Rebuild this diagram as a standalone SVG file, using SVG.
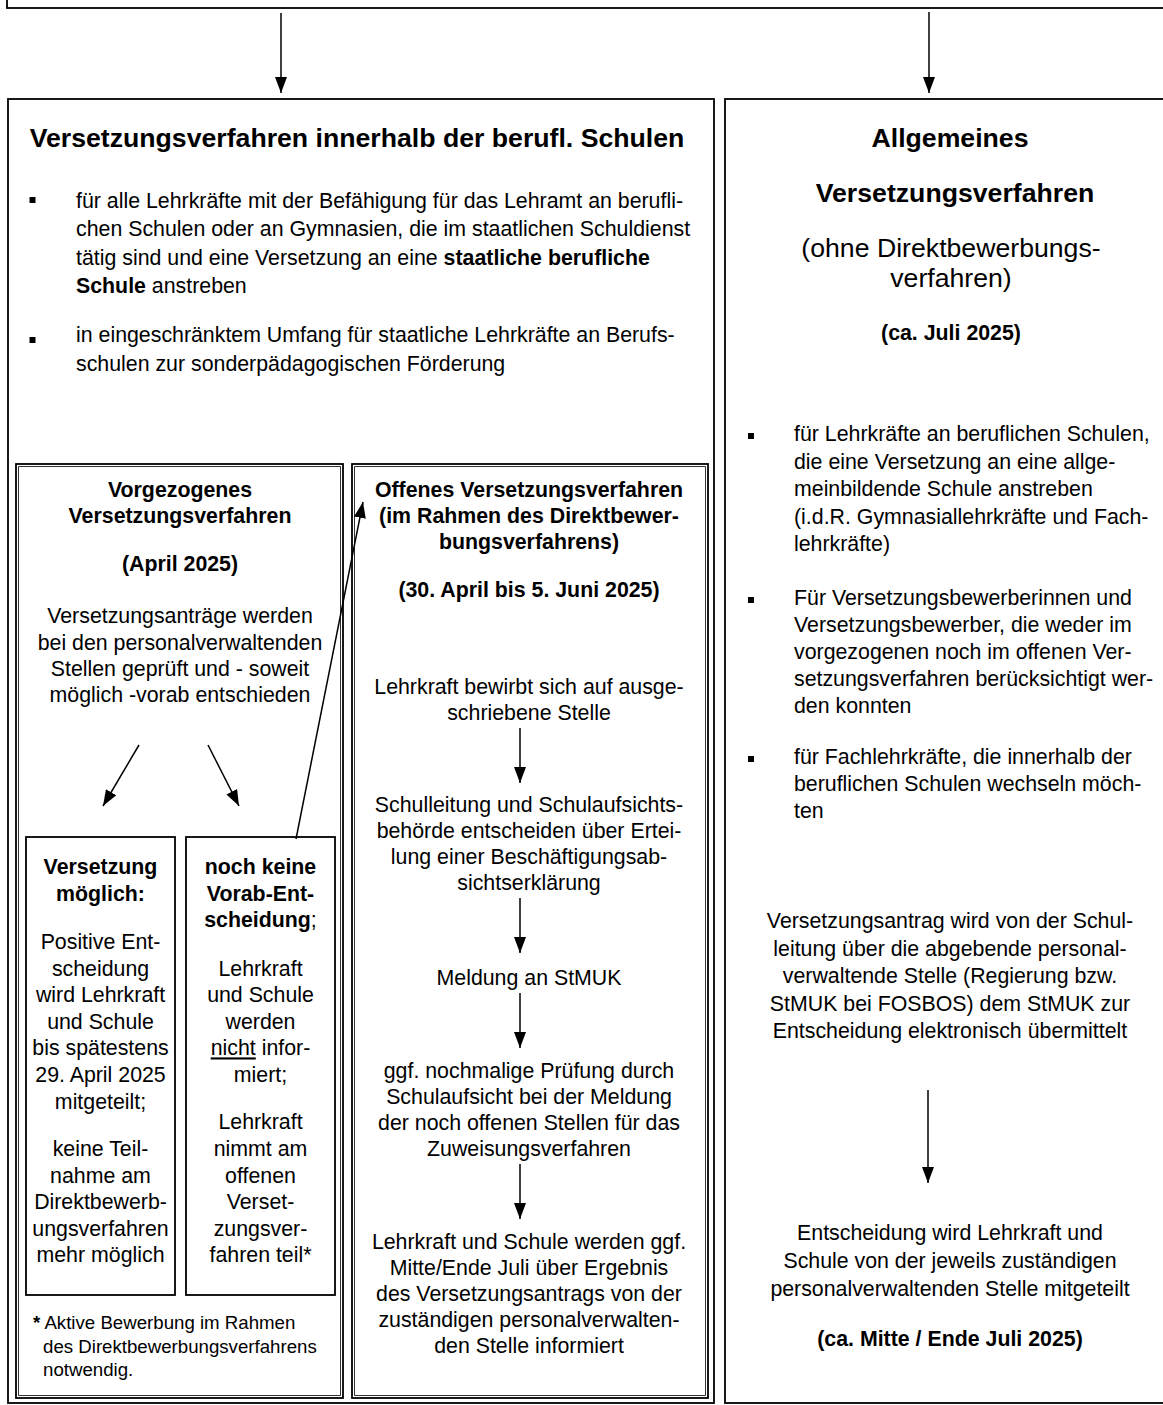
<svg xmlns="http://www.w3.org/2000/svg" width="1163" height="1405" viewBox="0 0 1163 1405">
<style>
.t{font-family:"Liberation Sans",Arial,sans-serif;font-size:21.33px;fill:#000}
.c{text-anchor:middle}
.b{font-weight:bold}
.h{font-size:26.67px}
.f{font-size:18.67px}
.box{fill:none;stroke:#000;stroke-width:1.8}
.thin{fill:none;stroke:#000;stroke-width:0.8}
.bul{fill:#000}
.ln{stroke:#000;stroke-width:1.5;fill:none;marker-end:url(#ah)}
</style>
<defs>
<marker id="ah" markerUnits="userSpaceOnUse" markerWidth="16" markerHeight="12" refX="16" refY="6" orient="auto"><path d="M0,0 L16,6 L0,12 Z" fill="#000"/></marker>
</defs>
<rect x="0" y="0" width="1163" height="1405" fill="#fff"/>

<g id="top-box">
<rect class="box" x="7" y="-20" width="1180" height="28"/>
</g>

<g id="berufl-box">
<rect class="box" x="8" y="99" width="706" height="1304"/>
<text class="t h b c" x="357" y="147">Versetzungsverfahren innerhalb der berufl. Schulen</text>
<rect class="bul" x="29.5" y="197" width="6" height="6"/>
<text class="t" x="76" y="208">für alle Lehrkräfte mit der Befähigung für das Lehramt an berufli-</text>
<text class="t" x="76" y="236.3">chen Schulen oder an Gymnasien, die im staatlichen Schuldienst</text>
<text class="t" x="76" y="264.6">tätig sind und eine Versetzung an eine <tspan class="b">staatliche berufliche</tspan></text>
<text class="t" x="76" y="293"><tspan class="b">Schule</tspan> anstreben</text>
<rect class="bul" x="29.5" y="337" width="6" height="6"/>
<text class="t" x="76" y="342">in eingeschränktem Umfang für staatliche Lehrkräfte an Berufs-</text>
<text class="t" x="76" y="370.6">schulen zur sonderpädagogischen Förderung</text>
</g>

<g id="vorgezogen-box">
<rect class="box" x="16" y="464" width="327" height="934"/>
<rect class="thin" x="18.6" y="466.6" width="321.8" height="928.8"/>
<text class="t b c" x="180" y="497">Vorgezogenes</text>
<text class="t b c" x="180" y="523">Versetzungsverfahren</text>
<text class="t b c" x="180" y="571">(April 2025)</text>
<text class="t c" x="180" y="623">Versetzungsanträge werden</text>
<text class="t c" x="180" y="649.5">bei den personalverwaltenden</text>
<text class="t c" x="180" y="676">Stellen geprüft und - soweit</text>
<text class="t c" x="180" y="702">möglich -vorab entschieden</text>
<text class="t f" x="33" y="1329"><tspan class="b">*</tspan> Aktive Bewerbung im Rahmen</text>
<text class="t f" x="43" y="1353">des Direktbewerbungsverfahrens</text>
<text class="t f" x="43" y="1376">notwendig.</text>
</g>

<g id="moeglich-box">
<rect class="box" x="26" y="837" width="149" height="458"/>
<text class="t b c" x="100.5" y="874">Versetzung</text>
<text class="t b c" x="100.5" y="900.6">möglich:</text>
<text class="t c" x="100.5" y="949">Positive Ent-</text>
<text class="t c" x="100.5" y="975.6">scheidung</text>
<text class="t c" x="100.5" y="1002.2">wird Lehrkraft</text>
<text class="t c" x="100.5" y="1028.8">und Schule</text>
<text class="t c" x="100.5" y="1055.4">bis spätestens</text>
<text class="t c" x="100.5" y="1082">29. April 2025</text>
<text class="t c" x="100.5" y="1108.6">mitgeteilt;</text>
<text class="t c" x="100.5" y="1156">keine Teil-</text>
<text class="t c" x="100.5" y="1182.6">nahme am</text>
<text class="t c" x="100.5" y="1209.2">Direktbewerb-</text>
<text class="t c" x="100.5" y="1235.8">ungsverfahren</text>
<text class="t c" x="100.5" y="1262.4">mehr möglich</text>
</g>

<g id="keine-box">
<rect class="box" x="186" y="837" width="149" height="458"/>
<text class="t b c" x="260.5" y="874">noch keine</text>
<text class="t b c" x="260.5" y="900.6">Vorab-Ent-</text>
<text class="t c" x="260.5" y="927.2"><tspan class="b">scheidung</tspan>;</text>
<text class="t c" x="260.5" y="975.6">Lehrkraft</text>
<text class="t c" x="260.5" y="1002.2">und Schule</text>
<text class="t c" x="260.5" y="1028.8">werden</text>
<text class="t c" x="260.5" y="1055.4"><tspan text-decoration="underline">nicht</tspan> infor-</text>
<text class="t c" x="260.5" y="1082">miert;</text>
<text class="t c" x="260.5" y="1129.4">Lehrkraft</text>
<text class="t c" x="260.5" y="1156">nimmt am</text>
<text class="t c" x="260.5" y="1182.6">offenen</text>
<text class="t c" x="260.5" y="1209.2">Verset-</text>
<text class="t c" x="260.5" y="1235.8">zungsver-</text>
<text class="t c" x="260.5" y="1262.4">fahren teil*</text>
</g>

<g id="offen-box">
<rect class="box" x="352" y="464" width="356" height="934"/>
<rect class="thin" x="354.6" y="466.6" width="350.8" height="928.8"/>
<text class="t b c" x="529" y="497">Offenes Versetzungsverfahren</text>
<text class="t b c" x="529" y="523">(im Rahmen des Direktbewer-</text>
<text class="t b c" x="529" y="549">bungsverfahrens)</text>
<text class="t b c" x="529" y="597">(30. April bis 5. Juni 2025)</text>
<text class="t c" x="529" y="694">Lehrkraft bewirbt sich auf ausge-</text>
<text class="t c" x="529" y="720">schriebene Stelle</text>
<text class="t c" x="529" y="812">Schulleitung und Schulaufsichts-</text>
<text class="t c" x="529" y="838">behörde entscheiden über Ertei-</text>
<text class="t c" x="529" y="864">lung einer Beschäftigungsab-</text>
<text class="t c" x="529" y="890">sichtserklärung</text>
<text class="t c" x="529" y="985">Meldung an StMUK</text>
<text class="t c" x="529" y="1078">ggf. nochmalige Prüfung durch</text>
<text class="t c" x="529" y="1104">Schulaufsicht bei der Meldung</text>
<text class="t c" x="529" y="1130">der noch offenen Stellen für das</text>
<text class="t c" x="529" y="1156">Zuweisungsverfahren</text>
<text class="t c" x="529" y="1249">Lehrkraft und Schule werden ggf.</text>
<text class="t c" x="529" y="1275">Mitte/Ende Juli über Ergebnis</text>
<text class="t c" x="529" y="1301">des Versetzungsantrags von der</text>
<text class="t c" x="529" y="1327">zuständigen personalverwalten-</text>
<text class="t c" x="529" y="1353">den Stelle informiert</text>
</g>

<g id="allgemein-box">
<rect class="box" x="725" y="99" width="460" height="1304"/>
<text class="t h b c" x="950" y="147">Allgemeines</text>
<text class="t h b c" x="955" y="202">Versetzungsverfahren</text>
<text class="t h c" x="951" y="257">(ohne Direktbewerbungs-</text>
<text class="t h c" x="951" y="287">verfahren)</text>
<text class="t b c" x="951" y="340">(ca. Juli 2025)</text>
<rect class="bul" x="748" y="433" width="6" height="6"/>
<text class="t" x="794" y="441">für Lehrkräfte an beruflichen Schulen,</text>
<text class="t" x="794" y="468.5">die eine Versetzung an eine allge-</text>
<text class="t" x="794" y="496">meinbildende Schule anstreben</text>
<text class="t" x="794" y="523.5">(i.d.R. Gymnasiallehrkräfte und Fach-</text>
<text class="t" x="794" y="551">lehrkräfte)</text>
<rect class="bul" x="748" y="597" width="6" height="6"/>
<text class="t" x="794" y="605">Für Versetzungsbewerberinnen und</text>
<text class="t" x="794" y="632">Versetzungsbewerber, die weder im</text>
<text class="t" x="794" y="659">vorgezogenen noch im offenen Ver-</text>
<text class="t" x="794" y="686">setzungsverfahren berücksichtigt wer-</text>
<text class="t" x="794" y="713">den konnten</text>
<rect class="bul" x="748" y="756" width="6" height="6"/>
<text class="t" x="794" y="764">für Fachlehrkräfte, die innerhalb der</text>
<text class="t" x="794" y="791">beruflichen Schulen wechseln möch-</text>
<text class="t" x="794" y="818">ten</text>
<text class="t c" x="950" y="928">Versetzungsantrag wird von der Schul-</text>
<text class="t c" x="950" y="955.5">leitung über die abgebende personal-</text>
<text class="t c" x="950" y="983">verwaltende Stelle (Regierung bzw.</text>
<text class="t c" x="950" y="1010.5">StMUK bei FOSBOS) dem StMUK zur</text>
<text class="t c" x="950" y="1038">Entscheidung elektronisch übermittelt</text>
<text class="t c" x="950" y="1240">Entscheidung wird Lehrkraft und</text>
<text class="t c" x="950" y="1268">Schule von der jeweils zuständigen</text>
<text class="t c" x="950" y="1296">personalverwaltenden Stelle mitgeteilt</text>
<text class="t b c" x="950" y="1346">(ca. Mitte / Ende Juli 2025)</text>
</g>

<g id="connectors">
<line class="ln" x1="281" y1="13" x2="281" y2="93"/>
<line class="ln" x1="929" y1="12" x2="929" y2="93"/>
<line class="ln" x1="139" y1="745" x2="103" y2="806"/>
<line class="ln" x1="208" y1="745" x2="239" y2="806"/>
<line class="ln" x1="296" y1="839" x2="363" y2="502"/>
<line class="ln" x1="520" y1="728" x2="520" y2="783"/>
<line class="ln" x1="520" y1="898" x2="520" y2="953"/>
<line class="ln" x1="520" y1="993" x2="520" y2="1048"/>
<line class="ln" x1="520" y1="1164" x2="520" y2="1219"/>
<line class="ln" x1="928" y1="1090" x2="928" y2="1183"/>
</g>
</svg>
